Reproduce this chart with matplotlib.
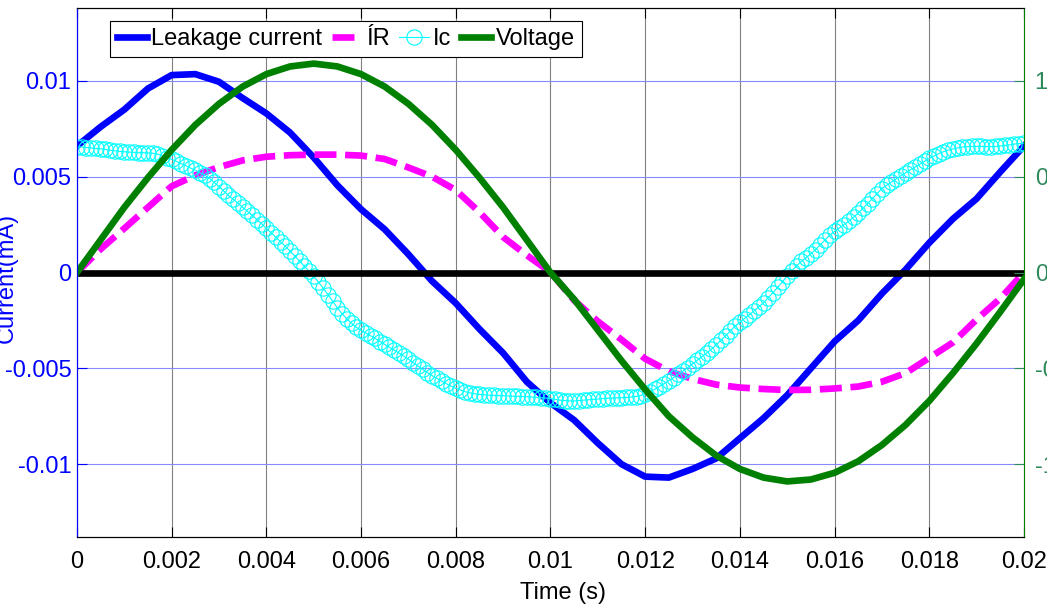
import numpy as np
import matplotlib
matplotlib.use('Agg')
import matplotlib.pyplot as plt

plt.rcParams['font.family'] = ['Liberation Sans', 'DejaVu Sans']

# time grids (s)
t = np.linspace(0, 0.02, 41)      # 0.5 ms step
t_ic = np.linspace(0, 0.02, 201)  # 0.1 ms step

# leakage current (x1e-3 mA)
leak = np.array([6.6, 7.6, 8.5, 9.6, 10.3, 10.35, 9.95, 9.1, 8.3, 7.3,
                 6.0, 4.55, 3.3, 2.25, 0.95, -0.45, -1.6, -2.95, -4.2, -5.7,
                 -6.8, -7.7, -8.9, -10.0, -10.65, -10.7, -10.25, -9.7, -8.65, -7.6,
                 -6.4, -5.0, -3.6, -2.5, -1.1, 0.15, 1.55, 2.8, 3.85, 5.25,
                 6.6]) * 1e-3

# resistive current IR (x1e-3 mA)
ir = np.array([0.0, 1.22, 2.3, 3.4, 4.5, 5.07, 5.5, 5.85, 6.04, 6.12,
               6.15, 6.15, 6.1, 5.92, 5.48, 5.0, 4.3, 3.15, 1.85, 0.9,
               0.02, -1.45, -2.55, -3.5, -4.5, -5.15, -5.55, -5.85, -6.0, -6.08,
               -6.13, -6.12, -6.05, -5.95, -5.7, -5.25, -4.45, -3.65, -2.45, -1.35,
               0.0]) * 1e-3

# voltage (right axis)
volt = np.array([0.0, 0.17, 0.34, 0.495, 0.64, 0.77, 0.88, 0.97, 1.035, 1.075,
                 1.09, 1.075, 1.035, 0.97, 0.88, 0.77, 0.64, 0.495, 0.34, 0.17,
                 0.0, -0.14, -0.30, -0.46, -0.61, -0.75, -0.86, -0.955, -1.025, -1.07,
                 -1.09, -1.08, -1.045, -0.985, -0.90, -0.795, -0.67, -0.525, -0.37, -0.205,
                 -0.035])

# capacitive current Ic (x1e-3 mA)
ic = np.array([
    6.55, 6.55, 6.52, 6.5, 6.47, 6.45, 6.42, 6.38, 6.35, 6.32,
    6.3, 6.28, 6.27, 6.25, 6.25, 6.24, 6.22, 6.18, 6.1, 6.0,
    5.9, 5.8, 5.68, 5.57, 5.45, 5.33, 5.2, 5.08, 4.9, 4.7,
    4.48, 4.25, 4.02, 3.82, 3.62, 3.4, 3.2, 2.98, 2.76, 2.54,
    2.3, 2.07, 1.84, 1.6, 1.37, 1.12, 0.86, 0.6, 0.33, 0.08,
    -0.2, -0.5, -0.82, -1.15, -1.5, -1.85, -2.15, -2.42, -2.65, -2.86,
    -3.02, -3.16, -3.3, -3.44, -3.6, -3.75, -3.9, -4.05, -4.2, -4.36,
    -4.52, -4.7, -4.88, -5.05, -5.22, -5.38, -5.52, -5.66, -5.8, -5.93,
    -6.04, -6.13, -6.22, -6.28, -6.33, -6.36, -6.38, -6.4, -6.41, -6.42,
    -6.43, -6.44, -6.45, -6.46, -6.47, -6.48, -6.5, -6.51, -6.53, -6.55,
    -6.58, -6.62, -6.66, -6.68, -6.7, -6.7, -6.68, -6.66, -6.64, -6.62,
    -6.6, -6.58, -6.56, -6.55, -6.54, -6.53, -6.52, -6.5, -6.47, -6.42,
    -6.33, -6.22, -6.1, -5.95, -5.8, -5.64, -5.48, -5.31, -5.14, -4.96,
    -4.77, -4.58, -4.39, -4.2, -4.0, -3.77, -3.54, -3.3, -3.05, -2.8,
    -2.6, -2.4, -2.2, -2.0, -1.79, -1.58, -1.32, -1.05, -0.77, -0.48,
    -0.18, 0.1, 0.35, 0.58, 0.78, 0.98, 1.2, 1.45, 1.7, 1.95,
    2.15, 2.32, 2.5, 2.68, 2.88, 3.1, 3.35, 3.6, 3.86, 4.12,
    4.38, 4.55, 4.72, 4.88, 5.05, 5.2, 5.36, 5.5, 5.65, 5.8,
    5.95, 6.08, 6.2, 6.3, 6.38, 6.45, 6.5, 6.55, 6.57, 6.58,
    6.58, 6.58, 6.57, 6.57, 6.58, 6.6, 6.63, 6.66, 6.7, 6.73,
    6.75]) * 1e-3

xticks = [0, 0.002, 0.004, 0.006, 0.008, 0.01, 0.012, 0.014, 0.016, 0.018, 0.02]
xtick_labels = ['0', '0.002', '0.004', '0.006', '0.008', '0.01',
                '0.012', '0.014', '0.016', '0.018', '0.02']
yticks_l = [-0.01, -0.005, 0, 0.005, 0.01]
ytick_labels_l = ['-0.01', '-0.005', '0', '0.005', '0.01']
yticks_r = [-1, -0.5, 0, 0.5, 1]
ytick_labels_r = ['-1', '-0.5', '0', '0.5', '1']

vgreen = '#2f8a5a'
fs = 17

fig = plt.figure(figsize=(10.47, 6.11), dpi=100)
ax1 = fig.add_axes([0.0735, 0.1211, 0.9045, 0.8658])
ax2 = ax1.twinx()

l1, = ax1.plot(t, leak, color='blue', lw=4.8, label='Leakage current')
l2, = ax1.plot(t, ir, color='magenta', lw=4.8, ls=(0, (3.3, 1.3)), label='ÍR')
l3, = ax1.plot(t_ic, ic, color='cyan', lw=0.8, marker='o', ms=11,
               mfc='none', mec='cyan', mew=0.8, label='Ic')
ax1.axhline(0, color='black', lw=4.8)
l4, = ax2.plot(t, volt, color='green', lw=4.8, label='Voltage')

ax1.set_xlim(0, 0.02)
ax1.set_ylim(-0.0138, 0.0138)
ax2.set_ylim(-1.38, 1.38)

ax1.set_xticks(xticks)
ax1.set_xticklabels(xtick_labels)
ax1.set_yticks(yticks_l)
ax1.set_yticklabels(ytick_labels_l)
ax2.set_yticks(yticks_r)
ax2.set_yticklabels(ytick_labels_r)

ax1.grid(axis='x', color='#808080', lw=0.8)
ax1.grid(axis='y', color='#8888ff', lw=0.8)
ax1.set_axisbelow(True)

ax1.tick_params(axis='x', direction='in', length=7, width=0.8, top=True,
                labelsize=fs, pad=10, colors='black')
ax1.tick_params(axis='y', direction='in', length=7, width=0.8,
                labelsize=fs, pad=4, colors='blue')
ax2.tick_params(axis='y', direction='in', length=7, width=0.8,
                labelsize=fs, pad=7.7, colors=vgreen)

ax1.spines['left'].set_color('blue')
ax2.spines['left'].set_color('blue')
ax2.spines['right'].set_color('green')
ax1.spines['right'].set_visible(False)
for ax in (ax1, ax2):
    for s in ax.spines.values():
        s.set_linewidth(0.8)

ax1.set_xlabel('Time (s)', fontsize=fs)
ax1.xaxis.set_label_coords(0.513, -0.085)
ax1.set_ylabel('Current(mA)', fontsize=fs, color='blue')
ax1.yaxis.set_label_coords(-0.062, 0.49)

leg = ax2.legend(handles=[l1, l2, l3, l4], loc='upper left',
                 bbox_to_anchor=(0.0348, 0.9754), borderaxespad=0, ncol=4,
                 fontsize=fs, handlelength=1.25, handletextpad=0.2,
                 columnspacing=0.4, borderpad=0.3, fancybox=False,
                 framealpha=1, edgecolor='black')
leg.get_frame().set_linewidth(0.8)

fig.savefig('out.png', dpi=100)
